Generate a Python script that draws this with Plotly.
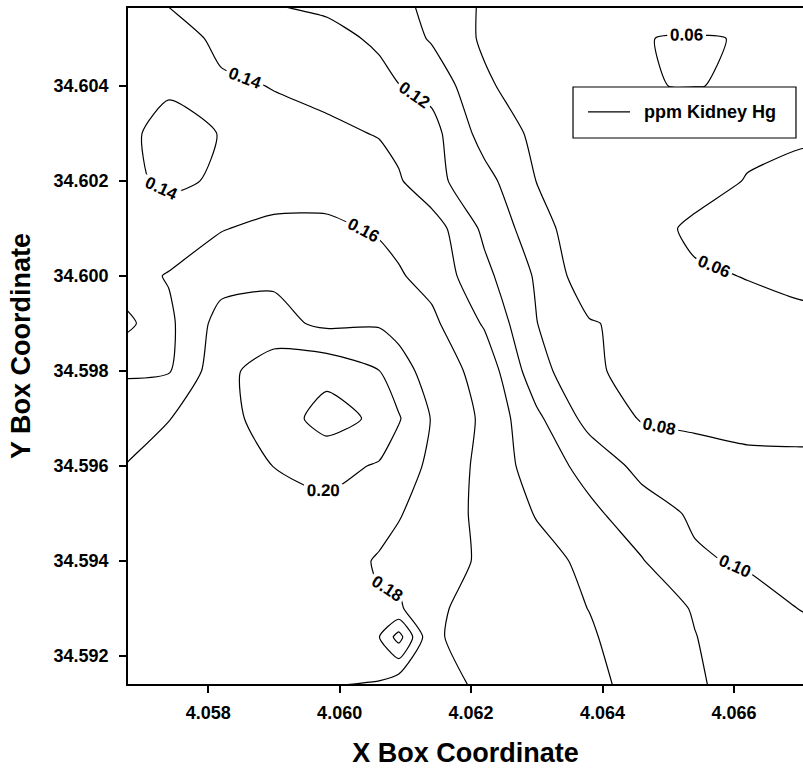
import plotly.graph_objects as go

# ---- grid coordinates (data units) ----
x_box = [4.0566, 4.0574, 4.0582, 4.0590, 4.0598, 4.0606, 4.0609, 4.0614,
         4.0622, 4.0630, 4.0638, 4.0646, 4.0654, 4.0662, 4.0670, 4.0678]
y_box = [34.5910, 34.5924, 34.5930, 34.5940, 34.5950, 34.5960, 34.5970, 34.5980,
         34.5990, 34.6000, 34.6010, 34.6020, 34.6030, 34.6040, 34.6050, 34.6060]

# ---- ppm Kidney Hg, one list per y row (bottom to top) ----
hg_345910 = [0.187, 0.188, 0.188, 0.186, 0.177, 0.170, 0.142, 0.163, 0.1596, 0.148, 0.1435, 0.137, 0.123, 0.1135, 0.106, 0.101]
hg_345924 = [0.188, 0.189, 0.190, 0.190, 0.190, 0.1995, 0.228, 0.162, 0.154, 0.1476, 0.1418, 0.1313, 0.1205, 0.1115, 0.104, 0.099]
hg_345930 = [0.188, 0.190, 0.191, 0.192, 0.190, 0.1815, 0.183, 0.163, 0.154, 0.1468, 0.1397, 0.1292, 0.1188, 0.1094, 0.0997, 0.093]
hg_345940 = [0.188, 0.190, 0.192, 0.193, 0.190, 0.1782, 0.1743, 0.1679, 0.1574, 0.1465, 0.1358, 0.121, 0.1028, 0.0974, 0.0946, 0.094]
hg_345950 = [0.184, 0.189, 0.193, 0.195, 0.195, 0.187, 0.1812, 0.1717, 0.1549, 0.1388, 0.1242, 0.1094, 0.097, 0.0901, 0.0886, 0.088]
hg_345960 = [0.179, 0.186, 0.192, 0.2002, 0.2064, 0.1981, 0.1897, 0.176, 0.1542, 0.1307, 0.1133, 0.094, 0.0855, 0.0828, 0.0825, 0.0825]
hg_345970 = [0.170, 0.1795, 0.1928, 0.2092, 0.228, 0.216, 0.2015, 0.179, 0.1561, 0.124, 0.0931, 0.0786, 0.0775, 0.0765, 0.0763, 0.0763]
hg_345980 = [0.158, 0.1585, 0.193, 0.212, 0.214, 0.2003, 0.189, 0.1707, 0.153, 0.1073, 0.0835, 0.073, 0.0728, 0.0706, 0.070, 0.070]
hg_345990 = [0.130, 0.156, 0.1879, 0.186, 0.176, 0.178, 0.1728, 0.1643, 0.138, 0.1003, 0.0815, 0.0744, 0.068, 0.063, 0.0615, 0.061]
hg_346000 = [0.150, 0.1614, 0.1723, 0.177, 0.171, 0.1667, 0.1617, 0.1537, 0.1253, 0.0974, 0.0672, 0.067, 0.0613, 0.0597, 0.0585, 0.058]
hg_346010 = [0.148, 0.147, 0.159, 0.165, 0.1635, 0.158, 0.155, 0.150, 0.116, 0.0887, 0.0649, 0.0642, 0.058, 0.056, 0.055, 0.055]
hg_346020 = [0.1442, 0.1375, 0.1417, 0.148, 0.152, 0.152, 0.1421, 0.126, 0.107, 0.0795, 0.0749, 0.0697, 0.0643, 0.0595, 0.057, 0.056]
hg_346030 = [0.143, 0.1369, 0.1403, 0.1425, 0.146, 0.1384, 0.1341, 0.127, 0.092, 0.0761, 0.070, 0.066, 0.065, 0.0625, 0.0615, 0.061]
hg_346040 = [0.145, 0.1413, 0.1415, 0.1397, 0.1317, 0.1243, 0.1204, 0.114, 0.0835, 0.068, 0.064, 0.0601, 0.0599, 0.0604, 0.063, 0.065]
hg_346050 = [0.148, 0.145, 0.1376, 0.1311, 0.1245, 0.1177, 0.1102, 0.0979, 0.0768, 0.070, 0.066, 0.0602, 0.0594, 0.0604, 0.063, 0.065]
hg_346060 = [0.145, 0.1374, 0.1299, 0.116, 0.1145, 0.1063, 0.1023, 0.0958, 0.0775, 0.074, 0.071, 0.068, 0.068, 0.067, 0.067, 0.068]

kidney_hg = [hg_345910, hg_345924, hg_345930, hg_345940, hg_345950, hg_345960,
             hg_345970, hg_345980, hg_345990, hg_346000, hg_346010, hg_346020,
             hg_346030, hg_346040, hg_346050, hg_346060]

# ---- tick labels ----
x_ticks = [4.058, 4.060, 4.062, 4.064, 4.066]
y_ticks = [34.592, 34.594, 34.596, 34.598, 34.600, 34.602, 34.604]
series_name = "ppm Kidney Hg"

FONT = "Liberation Sans, Arial, Helvetica, sans-serif"
BOLD = dict(family=FONT, color="black", weight="bold")

fig = go.Figure()
fig.add_trace(go.Contour(
    x=x_box, y=y_box, z=kidney_hg, name=series_name,
    colorscale=[[0, "black"], [1, "black"]],
    showscale=False,
    contours=dict(coloring="lines", start=0.06, end=0.2201, size=0.02,
                  showlabels=True, labelformat=".2f",
                  labelfont=dict(BOLD, size=17)),
    line=dict(width=1.2, smoothing=0.6),
    showlegend=False, hoverinfo="skip",
))

# legend box drawn in paper coordinates (matches the boxed key of the original)
fig.add_shape(type="rect", xref="paper", yref="paper",
              x0=0.6593, x1=0.9896, y0=0.8077, y1=0.8831,
              line=dict(color="black", width=1.2), fillcolor="white", layer="above")
fig.add_shape(type="line", xref="paper", yref="paper",
              x0=0.6815, x1=0.7437, y0=0.8462, y1=0.8462,
              line=dict(color="black", width=1.2), layer="above")
fig.add_annotation(xref="paper", yref="paper", x=0.7615, y=0.8462,
                   xanchor="left", yanchor="middle", showarrow=False,
                   text=series_name, font=dict(BOLD, size=18))

fig.update_layout(
    width=803, height=768,
    margin=dict(l=128, r=0, t=8, b=84),
    paper_bgcolor="white", plot_bgcolor="white",
    font=dict(family=FONT, color="black"),
    showlegend=False,
)
fig.update_xaxes(
    range=[4.05678, 4.06705], tickvals=x_ticks, tickformat=".3f",
    ticks="outside", ticklen=7, tickwidth=1.5, tickcolor="black",
    ticklabelstandoff=5,
    showline=True, linecolor="black", linewidth=1.5, mirror=True,
    showgrid=False, zeroline=False, automargin=False,
    tickfont=dict(BOLD, size=18),
    title=dict(text="X Box Coordinate", standoff=22,
               font=dict(BOLD, size=27)),
)
fig.update_yaxes(
    range=[34.59141, 34.60564], tickvals=y_ticks, tickformat=".3f",
    ticks="outside", ticklen=7, tickwidth=1.5, tickcolor="black",
    ticklabelstandoff=7,
    showline=True, linecolor="black", linewidth=1.5, mirror=False,
    showgrid=False, zeroline=False, automargin=False,
    tickfont=dict(BOLD, size=18),
    title=dict(text="Y Box Coordinate", standoff=15,
               font=dict(BOLD, size=27)),
)

fig.write_html("out.html", config={"displayModeBar": False},
               post_script="document.body.style.margin='0px';document.body.style.overflow='hidden';")
